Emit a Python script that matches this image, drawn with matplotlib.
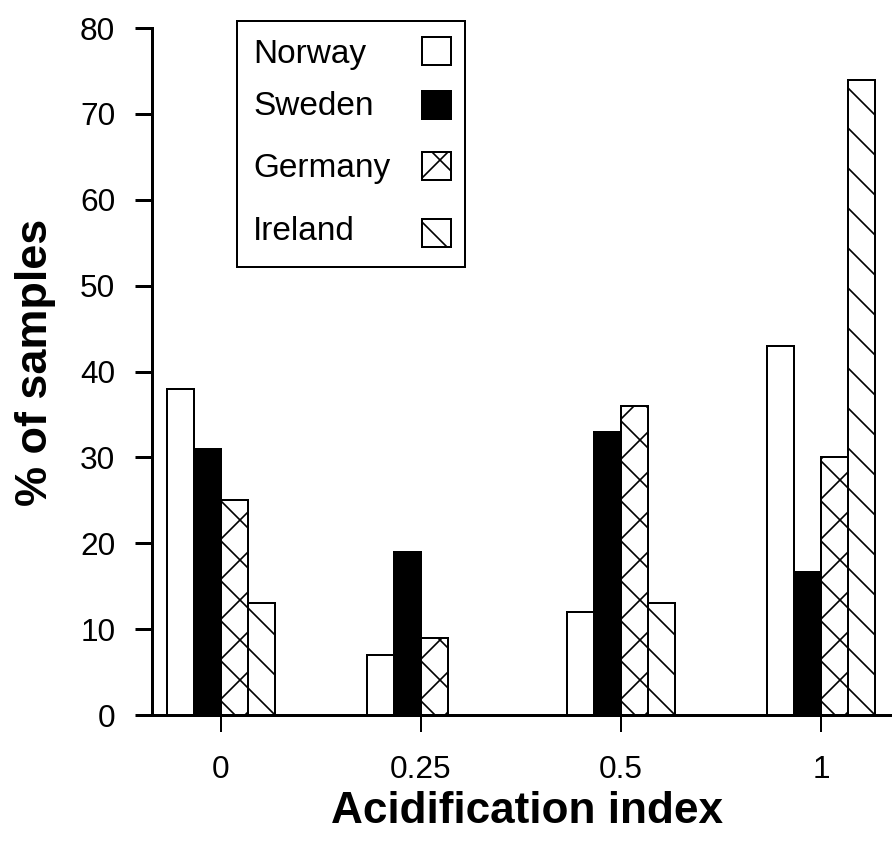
import numpy as np
import matplotlib
matplotlib.use("Agg")
import matplotlib.pyplot as plt
from matplotlib.patches import Rectangle

# data
categories = ["0", "0.25", "0.5", "1"]
country_list = ["Norway", "Sweden", "Germany", "Ireland"]
norway = [38, 7, 12, 43]
sweden = [31, 19, 33, 16.7]
germany = [25, 9, 36, 30]
ireland = [13, 0, 13, 74]

# bar styles (face colour, hatch)
face_list = ["white", "black", "white", "white"]
hatch_list = ["", "", "x", "\\"]

plt.rcParams['font.family'] = ['Liberation Sans', 'DejaVu Sans']
plt.rcParams['hatch.linewidth'] = 1.0

DPI = 120
fig = plt.figure(figsize=(892 / DPI, 860 / DPI), dpi=DPI)
ax = fig.add_axes([0.1704, 0.1686, 0.8296, 0.7988])

index_list = np.arange(len(categories))
w = 0.135
series = [norway, sweden, germany, ireland]
for k in range(4):
    ax.bar(index_list + (k - 1.5) * w, series[k], width=w, color=face_list[k],
           hatch=hatch_list[k], edgecolor='black', linewidth=1.2, zorder=2)

ax.set_xlim(-0.345, 3.355)
ax.set_ylim(0, 80)
ax.set_yticks(np.arange(0, 81, 10))
ax.set_xticks(index_list)
ax.set_xticklabels(categories)

ax.spines['top'].set_visible(False)
ax.spines['right'].set_visible(False)
ax.spines['left'].set_linewidth(1.8)
ax.spines['bottom'].set_linewidth(1.8)
ax.tick_params(axis='y', direction='out', length=10, width=1.8, pad=12, labelsize=19)
ax.tick_params(axis='x', direction='out', length=10, width=1.2, pad=14, labelsize=19)

ax.set_xlabel('Acidification index', fontsize=26.5, fontweight='bold', va='center')
ax.xaxis.set_label_coords(0.507, -0.141)
ax.set_ylabel('% of samples', fontsize=27, fontweight='bold', va='center')
ax.yaxis.set_label_coords(-0.158, 0.514)

# legend drawn by hand: labels left, swatches right
ax.add_patch(Rectangle((0.1149, 0.652), 0.3081, 0.358, transform=ax.transAxes,
                       facecolor='white', edgecolor='black', linewidth=1.2,
                       clip_on=False, zorder=5))
text_y = [0.949, 0.873, 0.783, 0.691]
box_y = [0.946, 0.8675, 0.7787, 0.681]
for k in range(4):
    ax.text(0.1365, text_y[k], country_list[k], transform=ax.transAxes,
            fontsize=20, va='baseline', ha='left', zorder=6)
    ax.add_patch(Rectangle((0.3649, box_y[k]), 0.0392, 0.0405, transform=ax.transAxes,
                           facecolor=face_list[k], hatch=hatch_list[k],
                           edgecolor='black', linewidth=1.2, clip_on=False, zorder=6))

plt.savefig("out.png", dpi=DPI)
